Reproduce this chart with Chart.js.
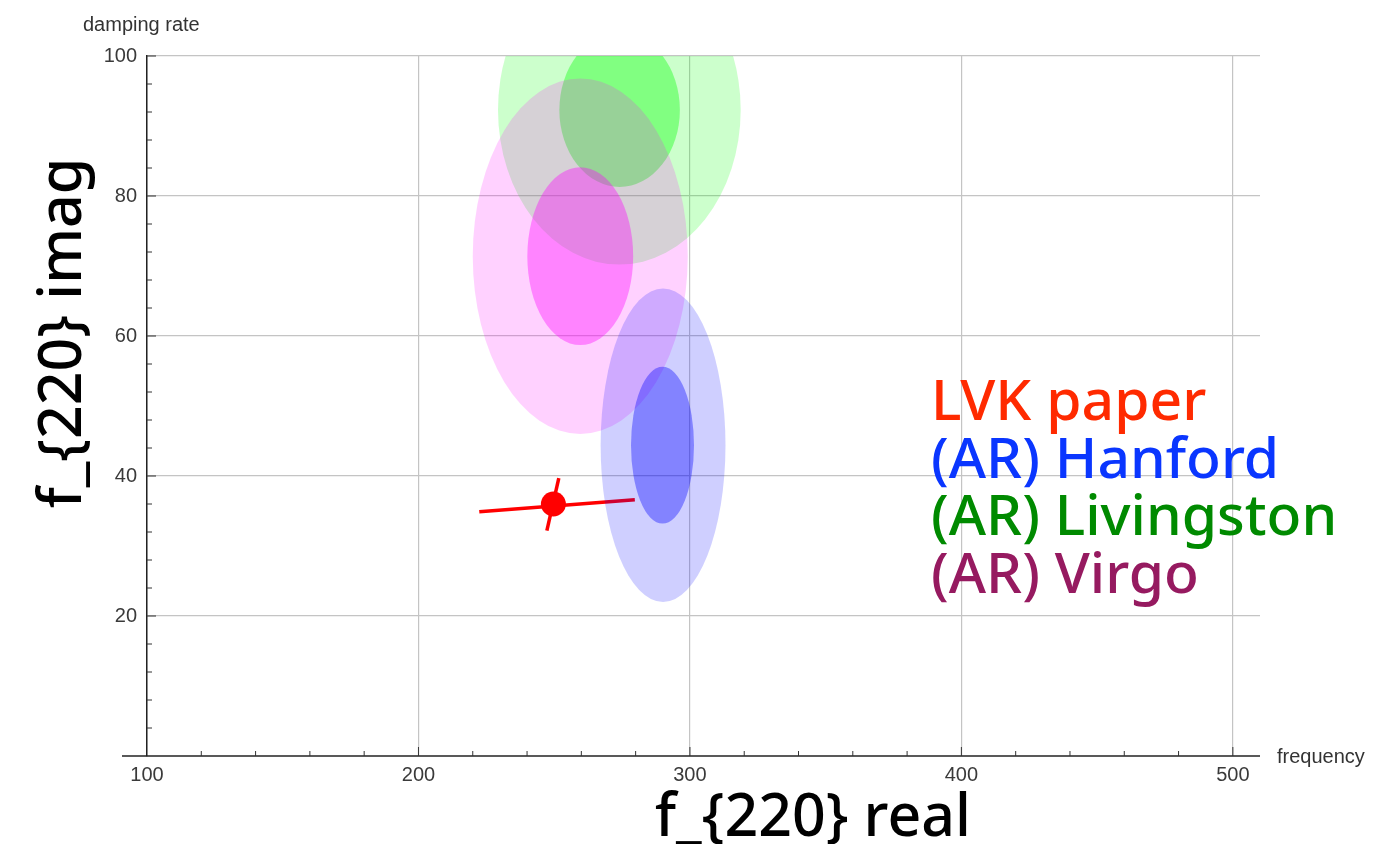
<!DOCTYPE html>
<html>
<head>
<meta charset="utf-8">
<script src="https://cdn.jsdelivr.net/npm/chart.js@4.4.1/dist/chart.umd.min.js"></script>
<style>
  html, body { margin: 0; padding: 0; background: #ffffff; }
  #wrap { width: 1374px; height: 844px; }
</style>
</head>
<body>
<div id="wrap"><canvas id="c" width="1374" height="844"></canvas></div>
<script>
// ---- data ----
const xTicks = [100, 200, 300, 400, 500];
const yTicks = [20, 40, 60, 80, 100];
const xRange = [100, 510];
const yRange = [0, 100];

// LVK paper point and its error bars
const lvkPoint = [{ x: 249.7, y: 36.0 }];
const lvkBarReal = [{ x: 222.4, y: 34.9 }, { x: 279.7, y: 36.6 }];
const lvkBarImag = [{ x: 251.7, y: 39.7 }, { x: 247.3, y: 32.2 }];

// AR ellipses: [centre real, centre imag, half-width real, half-height imag]
const livingstonOuter = [274.0, 92.3, 44.7, 22.1];
const livingstonInner = [274.1, 92.3, 22.2, 11.0];
const virgoOuter = [259.6, 71.4, 39.6, 25.4];
const virgoInner = [259.6, 71.4, 19.5, 12.7];
const hanfordOuter = [290.1, 44.4, 23.0, 22.4];
const hanfordInner = [289.9, 44.4, 11.6, 11.2];

const legendLabels = ['LVK paper', '(AR) Hanford', '(AR) Livingston', '(AR) Virgo'];
const legendColors = ['#ff2a00', '#0a36ff', '#008a00', '#961a60'];

const xTitle = 'f_{220} real';
const yTitle = 'f_{220} imag';
const xAxisName = 'frequency';
const yAxisName = 'damping rate';

// ---- drawing helpers ----
function drawEllipse(chart, e, color) {
  const xs = chart.scales.x, ys = chart.scales.y;
  const cx = xs.getPixelForValue(e[0]);
  const cy = ys.getPixelForValue(e[1]);
  const rx = Math.abs(xs.getPixelForValue(e[0] + e[2]) - cx);
  const ry = Math.abs(ys.getPixelForValue(e[1] + e[3]) - cy);
  const ctx = chart.ctx;
  ctx.beginPath();
  ctx.ellipse(cx, cy, rx, ry, 0, 0, Math.PI * 2);
  ctx.fillStyle = color;
  ctx.fill();
}
function clipArea(chart) {
  const a = chart.chartArea, ctx = chart.ctx;
  ctx.save();
  ctx.beginPath();
  ctx.rect(a.left, a.top, a.right - a.left, a.bottom - a.top);
  ctx.clip();
}

const ellipsePlugin = {
  id: 'ellipses',
  beforeDatasetsDraw(chart) {
    clipArea(chart);
    drawEllipse(chart, livingstonOuter, 'rgba(0,255,0,0.2)');
    drawEllipse(chart, livingstonInner, 'rgba(0,255,0,0.37)');
    drawEllipse(chart, virgoOuter, 'rgba(255,0,255,0.18)');
    drawEllipse(chart, virgoInner, 'rgba(255,0,255,0.37)');
    chart.ctx.restore();
  },
  afterDatasetsDraw(chart) {
    clipArea(chart);
    drawEllipse(chart, hanfordOuter, 'rgba(0,0,255,0.19)');
    drawEllipse(chart, hanfordInner, 'rgba(0,0,255,0.37)');
    chart.ctx.restore();
  }
};

const decorPlugin = {
  id: 'decor',
  afterDraw(chart) {
    const ctx = chart.ctx, xs = chart.scales.x, ys = chart.scales.y;
    const a = chart.chartArea;
    ctx.save();
    // x axis line extension to the left
    ctx.strokeStyle = '#222';
    ctx.lineWidth = 1.5;
    ctx.beginPath();
    ctx.moveTo(a.left - 25, a.bottom);
    ctx.lineTo(a.right, a.bottom);
    ctx.stroke();
    // inward ticks
    ctx.lineWidth = 1;
    ctx.strokeStyle = '#333';
    for (let v = xRange[0] + 20; v <= xRange[1]; v += 20) {
      const px = xs.getPixelForValue(v);
      const len = (v % 100 === 0) ? 9 : 5;
      ctx.beginPath(); ctx.moveTo(px, a.bottom); ctx.lineTo(px, a.bottom - len); ctx.stroke();
    }
    for (let v = yRange[0] + 4; v <= yRange[1]; v += 4) {
      const py = ys.getPixelForValue(v);
      const len = (v % 20 === 0) ? 9 : 5;
      ctx.beginPath(); ctx.moveTo(a.left, py); ctx.lineTo(a.left + len, py); ctx.stroke();
    }
    // small axis names
    ctx.fillStyle = '#333';
    ctx.font = '20px "Liberation Sans", Arial, sans-serif';
    ctx.textBaseline = 'middle';
    ctx.textAlign = 'left';
    ctx.fillText(yAxisName, 83, 25);
    ctx.fillText(xAxisName, 1277, 757);
    // big axis titles
    ctx.fillStyle = '#000';
    ctx.font = '500 59px "Noto Sans", sans-serif';
    ctx.textBaseline = 'alphabetic';
    ctx.textAlign = 'center';
    ctx.fillText(xTitle, 813, 836);
    ctx.save();
    ctx.translate(81, 333);
    ctx.rotate(-Math.PI / 2);
    ctx.fillText(yTitle, 0, 0);
    ctx.restore();
    // legend
    ctx.font = '500 57px "Noto Sans", sans-serif';
    ctx.textAlign = 'left';
    for (let i = 0; i < legendLabels.length; i++) {
      ctx.fillStyle = legendColors[i];
      ctx.fillText(legendLabels[i], 931, 420 + i * 57.5);
    }
    ctx.restore();
  }
};

new Chart(document.getElementById('c'), {
  type: 'scatter',
  data: {
    datasets: [
      { label: 'LVK paper', data: lvkPoint, pointRadius: 12.5, pointHoverRadius: 12.5,
        backgroundColor: '#ff0000', borderColor: '#ff0000', borderWidth: 0 },
      { type: 'line', label: 'LVK real bar', data: lvkBarReal, showLine: true,
        borderColor: '#ff0000', borderWidth: 3.5, pointRadius: 0, fill: false },
      { type: 'line', label: 'LVK imag bar', data: lvkBarImag, showLine: true,
        borderColor: '#ff0000', borderWidth: 3.5, pointRadius: 0, fill: false }
    ]
  },
  options: {
    responsive: false,
    devicePixelRatio: 1,
    animation: false,
    events: [],
    layout: { padding: { top: 56, right: 114, left: 0, bottom: 0 } },
    plugins: { legend: { display: false }, tooltip: { enabled: false } },
    scales: {
      x: {
        type: 'linear', min: xRange[0], max: xRange[1],
        afterBuildTicks: s => { s.ticks = xTicks.map(v => ({ value: v })); },
        afterFit: s => { s.height = 88; },
        grid: { color: '#c4c4c4', lineWidth: 1.2, drawTicks: false },
        border: { display: false },
        ticks: { autoSkip: false, maxRotation: 0, padding: 7, color: '#3a3a3a',
                 font: { family: '"Liberation Sans", Arial, sans-serif', size: 20 } }
      },
      y: {
        type: 'linear', min: yRange[0], max: yRange[1],
        afterBuildTicks: s => { s.ticks = yTicks.map(v => ({ value: v })); },
        afterFit: s => { s.width = 147; },
        grid: { color: '#c4c4c4', lineWidth: 1.2, drawTicks: false },
        border: { display: true, color: '#222', width: 1.5 },
        ticks: { autoSkip: false, padding: 10, color: '#3a3a3a',
                 font: { family: '"Liberation Sans", Arial, sans-serif', size: 20 } }
      }
    }
  },
  plugins: [ellipsePlugin, decorPlugin]
});
</script>
</body>
</html>
